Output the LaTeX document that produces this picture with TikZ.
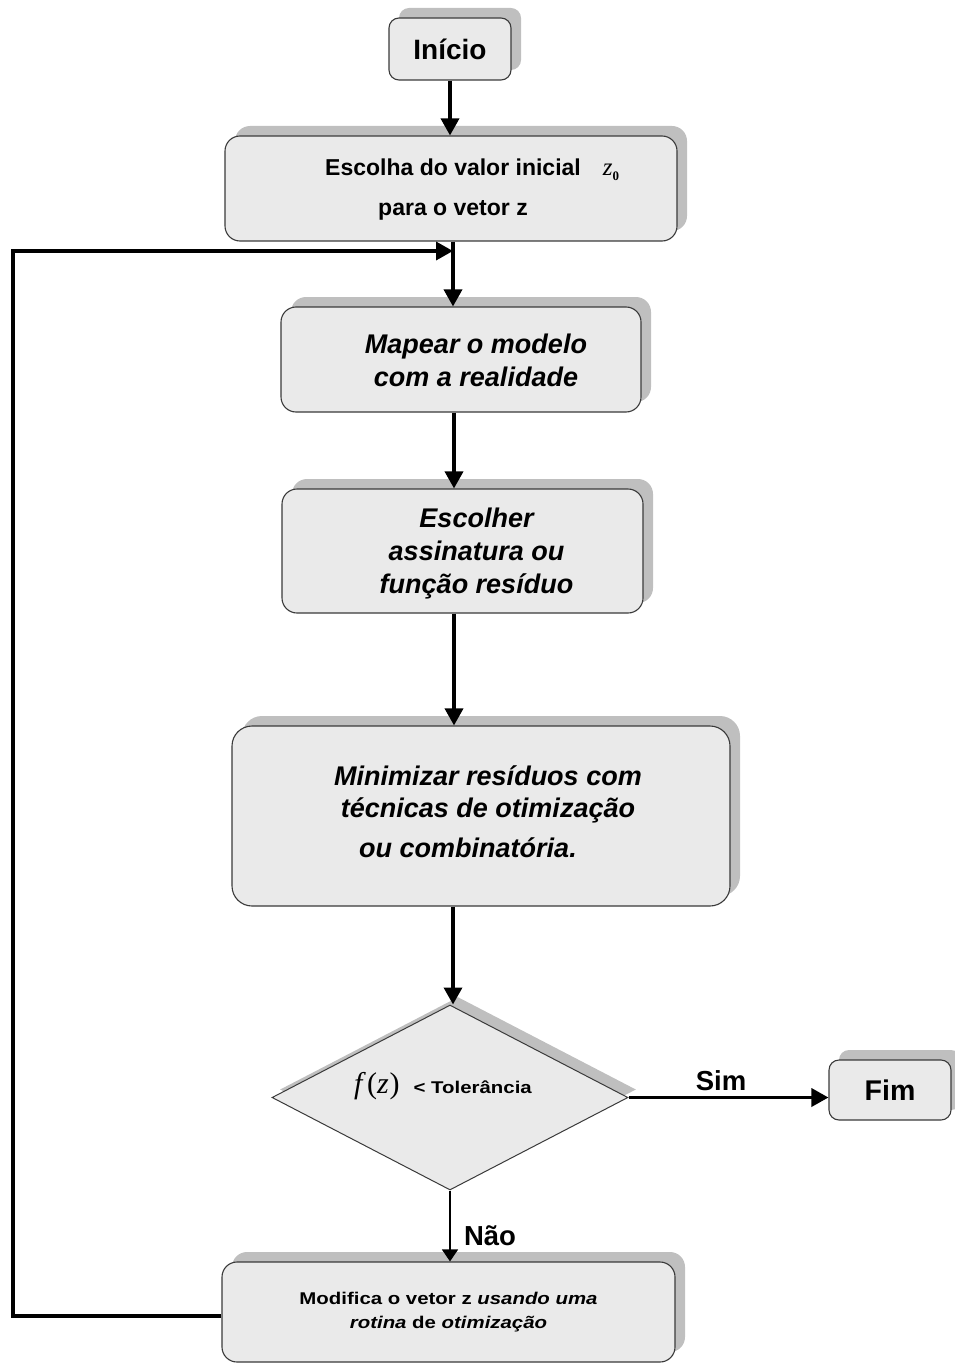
\documentclass[tikz,border=0pt]{standalone}
\usepackage{fontspec}
\setmainfont{Liberation Sans}
\newfontfamily\widesans[FakeStretch=1.2]{Liberation Sans}
\newfontfamily\mathserif{Liberation Serif}
\usetikzlibrary{shapes.geometric,shadows,arrows.meta}

\definecolor{boxfill}{HTML}{EAEAEA}
\definecolor{boxline}{HTML}{3A3A3A}
\definecolor{shadowgray}{HTML}{BFBFBF}

\begin{document}
\begin{tikzpicture}[x=1pt,y=-1pt,
  card/.style={draw=boxline, line width=1.1pt, fill=boxfill,
    rounded corners=15pt, inner sep=0pt, align=center,
    general shadow={fill=shadowgray, shadow xshift=10pt, shadow yshift=10pt}},
  decision/.style={diamond, aspect=2, draw=boxline, line width=1pt, fill=boxfill,
    inner sep=0pt,
    general shadow={fill=shadowgray, shadow xshift=8pt, shadow yshift=8pt}},
  cardtext/.style={inner sep=0pt, align=center},
  bigital/.style={cardtext, font=\bfseries\itshape\fontsize{27}{33}\selectfont},
  flow/.style={line width=3.5pt, -{Triangle[length=17pt,width=18pt]}},
  thinflow/.style={line width=1.2pt, -{Triangle[length=12pt,width=16pt]}},
  lbl/.style={font=\bfseries\fontsize{27.5}{30}\selectfont, inner sep=0pt},
]
\useasboundingbox (0,0) rectangle (954,1364);

% process boxes
\node[card, rounded corners=10pt, minimum width=122pt, minimum height=62pt,
      font=\bfseries\fontsize{28}{30}\selectfont] (inicio) at (450,49) {Início};

\node[card, minimum width=452pt, minimum height=105pt] (escolha) at (451,188.5) {};
\node[cardtext, font=\bfseries\fontsize{23}{40}\selectfont] (escolhatxt)
  at ([shift={(2,1.5)}]escolha.center)
  {Escolha do valor inicial\\para o vetor z};
\node[inner sep=0pt] (zzero) at (611,172)
  {{\mathserif\itshape\fontsize{25}{25}\selectfont z}\raisebox{-5pt}{\mathserif\bfseries\fontsize{13}{13}\selectfont 0}};

\node[card, minimum width=360pt, minimum height=105pt] (mapear) at (461,359.5) {};
\node[bigital] (mapeartxt) at ([shift={(15,1)}]mapear.center)
  {Mapear o modelo\\com a realidade};

\node[card, minimum width=361pt, minimum height=124pt] (escolher) at (462.5,551) {};
\node[bigital] (escolhertxt) at ([shift={(14,3)}]escolher.center)
  {Escolher\\assinatura ou\\função resíduo};

\node[card, minimum width=498pt, minimum height=180pt, rounded corners=20pt] (minimizar) at (481,816) {};
\node[bigital, font=\bfseries\itshape\fontsize{27}{32}\selectfont] (minimizartxt)
  at ([shift={(7,-4)}]minimizar.center)
  {Minimizar resíduos com\\técnicas de otimização\\[8pt]ou combinatória.\hspace*{40pt}};

% decision
\node[decision, minimum width=356pt, minimum height=185pt] (teste) at (450,1097.5) {};
\node[inner sep=0pt] (testetxt) at (443,1086)
  {{\mathserif\fontsize{30}{30}\selectfont\itshape f\/\kern1pt\upshape(\itshape z\/\kern1pt\upshape)}\hspace{14pt}{\widesans\bfseries\fontsize{17}{20}\selectfont< Tolerância}};

\node[card, rounded corners=10pt, minimum width=122pt, minimum height=60pt,
      font=\bfseries\fontsize{28.5}{30}\selectfont] (fim) at (890,1090) {Fim};

\node[card, minimum width=453pt, minimum height=100pt,
      font=\widesans\bfseries\fontsize{17}{24}\selectfont] (modifica) at (448.5,1312)
  {Modifica o vetor z \textit{usando uma}\\\textit{rotina} de \textit{otimização}};

% connector guide points
\coordinate (spineA) at (453,0);
\coordinate (spineB) at (454,0);
\coordinate (loopBottom) at (13,1316);
\coordinate (loopTop) at (13,251);
\coordinate (merge) at (453,251);

% connectors
\draw[flow] (inicio.south) -- (inicio.south |- escolha.north);
\draw[flow] (escolha.south -| spineA) -- (mapear.north -| spineA);
\draw[line width=3.5pt] (modifica.west |- loopBottom) -- (loopBottom) -- (loopTop);
\draw[flow] ([xshift=-1.75pt]loopTop) -- (merge);
\draw[flow] (mapear.south -| spineB) -- (escolher.north -| spineB);
\draw[flow] (escolher.south -| spineB) -- (minimizar.north -| spineB);
\draw[flow] (minimizar.south -| spineA) -- (teste.north -| spineA);
\draw[flow] (teste.east) -- (fim.west |- teste.east);
\draw[thinflow] (teste.south) -- (teste.south |- modifica.north);

% branch labels
\node[lbl] (sim) at (721,1081) {Sim};
\node[lbl] (nao) at (490,1236) {Não};
\end{tikzpicture}
\end{document}
